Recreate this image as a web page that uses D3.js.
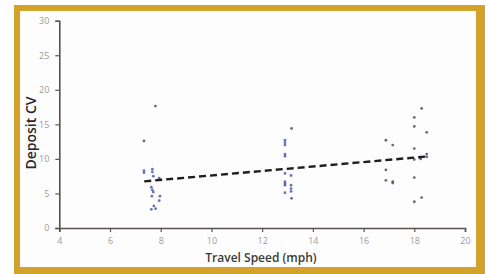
<!DOCTYPE html>
<html><head><meta charset="utf-8">
<script src="https://cdn.jsdelivr.net/npm/d3@7"></script>
<style>html,body{margin:0;padding:0;background:#fff;}svg{display:block;}</style>
</head><body>
<svg id="c" width="485" height="274"></svg>
<script>
const xTicks = [4, 6, 8, 10, 12, 14, 16, 18, 20];
const yTicks = [0, 5, 10, 15, 20, 25, 30];
// blue series
const blueX = [7.34, 7.34, 7.67, 7.67, 7.71, 7.94, 7.63, 7.67, 7.71, 7.65, 7.97, 7.94, 7.73, 7.63, 7.80,
  12.9, 12.9, 12.9, 12.9, 12.9, 12.9, 12.9, 12.9, 12.9, 13.14, 13.14, 13.14, 13.14, 12.9];
const blueY = [8.3, 8.0, 8.5, 8.1, 7.5, 7.2, 5.9, 5.5, 5.2, 4.6, 4.6, 3.95, 3.2, 2.7, 2.8,
  12.7, 12.35, 12.0, 10.7, 10.4, 7.9, 6.7, 6.45, 6.2, 7.6, 6.2, 5.7, 5.3, 5.1];
// dark series
const darkX = [7.34, 7.79, 13.16, 13.16, 16.88, 17.15, 16.88, 16.88, 17.15, 17.15,
  18.0, 18.0, 18.0, 18.0, 18.0, 18.0, 18.29, 18.29, 18.49, 18.49, 18.49, 18.25];
const darkY = [12.6, 17.65, 14.4, 4.3, 12.7, 12.0, 8.4, 6.9, 6.7, 6.5,
  16.0, 14.7, 11.5, 9.9, 7.3, 3.8, 17.3, 4.4, 13.85, 10.7, 10.3, 10.0];
const trendX = [7.35, 18.5];
const trendY = [6.75, 10.35];

const svg = d3.select("#c");
// gold frame
svg.append("rect").attr("x", 14).attr("y", 5).attr("width", 471).attr("height", 269).attr("fill", "#d4a12a");
svg.append("rect").attr("x", 20).attr("y", 11).attr("width", 456).attr("height", 256).attr("fill", "#fdfdfd");

const x = d3.scaleLinear().domain([4, 20]).range([59.3, 465]);
const y = d3.scaleLinear().domain([0, 30]).range([228, 20.7]);

const xAxis = svg.append("g").attr("transform", "translate(0,228)")
  .call(d3.axisBottom(x).tickValues(xTicks).tickSize(4).tickPadding(6));
const yAxis = svg.append("g").attr("transform", "translate(59.3,0)")
  .call(d3.axisLeft(y).tickValues(yTicks).tickSize(4).tickPadding(6));
[xAxis, yAxis].forEach(g => {
  g.select(".domain").attr("stroke", "#5a5252").attr("stroke-width", 1.6);
  g.selectAll(".tick line").attr("stroke", "#5a5252").attr("stroke-width", 1.2);
  g.selectAll(".tick text").attr("fill", "#9a9a9a").style("font-family", "'Open Sans', sans-serif").style("font-size", "9px");
});

svg.append("g").selectAll("circle").data(blueX).join("circle")
  .attr("cx", d => x(d)).attr("cy", (d, i) => y(blueY[i])).attr("r", 1.4)
  .attr("fill", "#4f5aa8").attr("opacity", 0.85);
svg.append("g").selectAll("circle").data(darkX).join("circle")
  .attr("cx", d => x(d)).attr("cy", (d, i) => y(darkY[i])).attr("r", 1.4)
  .attr("fill", "#5a4a66").attr("opacity", 0.85);

svg.append("line")
  .attr("x1", x(trendX[0])).attr("y1", y(trendY[0]))
  .attr("x2", x(trendX[1])).attr("y2", y(trendY[1]))
  .attr("stroke", "#1e1e1e").attr("stroke-width", 2.4).attr("stroke-dasharray", "7,4");

svg.append("text").attr("x", 261).attr("y", 262).attr("text-anchor", "middle")
  .style("font-family", "'Open Sans', sans-serif").style("font-size", "12px").style("font-weight", 600)
  .attr("fill", "#3a3a3a").text("Travel Speed (mph)");
svg.append("text").attr("transform", "translate(36,133) rotate(-90)").attr("text-anchor", "middle")
  .style("font-family", "'Open Sans', sans-serif").style("font-size", "14px").style("font-weight", 600)
  .attr("fill", "#2a2a2a").text("Deposit CV");
</script>
</body></html>
